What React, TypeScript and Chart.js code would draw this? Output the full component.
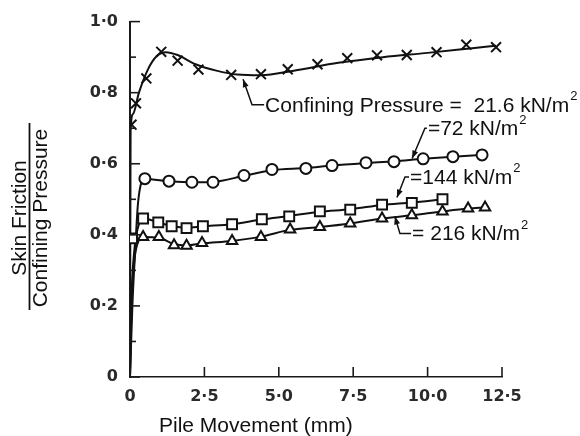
import React, { useEffect, useRef } from 'react';
import { Chart, registerables } from 'chart.js';

Chart.register(...registerables);

// ---------- axes ----------
const xTickValues = [0, 2.5, 5, 7.5, 10, 12.5];
const xTickLabels = ['0', '2·5', '5·0', '7·5', '10·0', '12·5'];
const yTickValues = [0, 0.2, 0.4, 0.6, 0.8, 1.0];
const yTickLabels = ['0', '0·2', '0·4', '0·6', '0·8', '1·0'];
const yMinorTicks = [0.1, 0.3, 0.5, 0.7, 0.9];
const xTitle = 'Pile Movement (mm)';
const yTitleTop = 'Skin Friction';
const yTitleBottom = 'Confining Pressure';

// ---------- 21.6 kN/m2 (crosses) ----------
const curve21X = [0, 0.02, 0.1, 0.3, 0.6, 0.9, 1.2, 1.6, 2.2, 2.9, 3.6, 4.4, 5.5, 7.0, 8.5, 10.0, 11.5, 12.3];
const curve21Y = [0, 0.69, 0.74, 0.8, 0.865, 0.903, 0.914, 0.906, 0.88, 0.862, 0.851, 0.849, 0.862, 0.884, 0.9, 0.912, 0.925, 0.932];
const mark21X = [0.05, 0.2, 0.55, 1.05, 1.6, 2.3, 3.4, 4.4, 5.3, 6.3, 7.3, 8.3, 9.3, 10.3, 11.3, 12.3];
const mark21Y = [0.71, 0.77, 0.84, 0.915, 0.89, 0.865, 0.85, 0.852, 0.866, 0.88, 0.897, 0.905, 0.906, 0.914, 0.935, 0.928];

// ---------- 72 kN/m2 (circles) ----------
const curve72X = [0, 0.08, 0.17, 0.27, 0.5, 1.31, 2.08, 2.79, 3.83, 4.77, 5.91, 6.79, 7.93, 8.87, 9.85, 10.85, 11.83];
const curve72Y = [0, 0.2, 0.35, 0.49, 0.557, 0.551, 0.548, 0.549, 0.566, 0.582, 0.588, 0.595, 0.602, 0.607, 0.614, 0.62, 0.625];
const mark72X = [0.5, 1.31, 2.08, 2.79, 3.83, 4.77, 5.91, 6.79, 7.93, 8.87, 9.85, 10.85, 11.83];
const mark72Y = [0.558, 0.551, 0.548, 0.548, 0.567, 0.584, 0.587, 0.595, 0.603, 0.606, 0.614, 0.62, 0.625];

// ---------- 144 kN/m2 (squares) ----------
const curve144X = [0, 0.05, 0.15, 0.3, 0.44, 0.95, 1.4, 1.9, 2.45, 3.43, 4.43, 5.35, 6.38, 7.4, 8.47, 9.47, 10.5];
const curve144Y = [0, 0.22, 0.36, 0.43, 0.446, 0.435, 0.425, 0.42, 0.424, 0.43, 0.443, 0.453, 0.465, 0.472, 0.484, 0.491, 0.5];
const mark144X = [0.07, 0.44, 0.95, 1.4, 1.9, 2.45, 3.43, 4.43, 5.35, 6.38, 7.4, 8.47, 9.47, 10.5];
const mark144Y = [0.39, 0.446, 0.435, 0.424, 0.419, 0.424, 0.43, 0.444, 0.452, 0.466, 0.471, 0.485, 0.49, 0.5];

// ---------- 216 kN/m2 (triangles) ----------
const curve216X = [0, 0.05, 0.15, 0.3, 0.44, 0.97, 1.48, 1.9, 2.42, 3.43, 4.4, 5.38, 6.38, 7.4, 8.47, 9.47, 10.5, 11.36, 11.93];
const curve216Y = [0, 0.2, 0.33, 0.385, 0.394, 0.392, 0.374, 0.37, 0.376, 0.383, 0.395, 0.414, 0.422, 0.432, 0.446, 0.455, 0.466, 0.474, 0.477];
const mark216X = [0.44, 0.97, 1.48, 1.9, 2.42, 3.43, 4.4, 5.38, 6.38, 7.4, 8.47, 9.47, 10.5, 11.36, 11.93];
const mark216Y = [0.394, 0.394, 0.371, 0.369, 0.377, 0.383, 0.394, 0.415, 0.422, 0.432, 0.446, 0.455, 0.466, 0.474, 0.477];

// ---------- annotations ----------
const noteLabels = ['Confining Pressure =  21.6 kN/m', '=72 kN/m', '=144 kN/m', '= 216 kN/m'];
const noteSup = ['2', '2', '2', '2'];
const noteTargetX = [3.8, 9.48, 8.97, 8.9];
const noteTargetY = [0.838, 0.615, 0.505, 0.452];
const noteElbowX = [4.1, 9.91, 9.24, 9.07];
const noteElbowY = [0.766, 0.70, 0.563, 0.404];
const noteTextX = [4.54, 10.01, 9.41, 9.48];

const INK = '#111';
const TEXT_FONT = '21px "Liberation Sans", Arial, sans-serif';
const zip = (xs: number[], ys: number[]) => xs.map((x, i) => ({ x, y: ys[i] }));

const curveDs = (xs: number[], ys: number[]) => ({
  type: 'line' as const,
  data: zip(xs, ys),
  borderColor: INK,
  borderWidth: 2,
  pointRadius: 0,
  fill: false,
  cubicInterpolationMode: 'monotone' as const,
  order: 1,
});

const markDs = (xs: number[], ys: number[], style: string, r: number) => ({
  type: 'scatter' as const,
  data: zip(xs, ys),
  showLine: false,
  pointStyle: style,
  pointRadius: r,
  pointBorderColor: INK,
  pointBackgroundColor: '#fff',
  pointBorderWidth: 2,
  borderColor: INK,
  backgroundColor: '#fff',
  order: 0,
});

const findLabel = (vals: number[], labels: string[], v: number) => {
  const i = vals.findIndex((t) => Math.abs(t - v) < 1e-6);
  return i >= 0 ? labels[i] : '';
};

const decorPlugin = {
  id: 'decor',
  afterDraw(chart: any) {
    const { ctx, chartArea, scales } = chart;
    const xs = scales.x;
    const ys = scales.y;
    const L = chartArea.left;
    const B = chartArea.bottom;
    ctx.save();
    ctx.strokeStyle = '#1a1a1a';
    ctx.lineWidth = 1.6;
    const seg = (x1: number, y1: number, x2: number, y2: number) => {
      ctx.beginPath();
      ctx.moveTo(x1, y1);
      ctx.lineTo(x2, y2);
      ctx.stroke();
    };
    // inward ticks
    yTickValues.forEach((v) => {
      const py = ys.getPixelForValue(v);
      seg(L, py, L + 10, py);
    });
    yMinorTicks.forEach((v) => {
      const py = ys.getPixelForValue(v);
      seg(L, py, L + 6, py);
    });
    xTickValues.forEach((v) => {
      const px = xs.getPixelForValue(v);
      seg(px, B, px, B - 10);
    });

    // annotations
    ctx.strokeStyle = INK;
    ctx.fillStyle = INK;
    ctx.lineWidth = 1.5;
    noteLabels.forEach((lab, i) => {
      const tx = xs.getPixelForValue(noteTargetX[i]);
      const ty = ys.getPixelForValue(noteTargetY[i]);
      const ex = xs.getPixelForValue(noteElbowX[i]);
      const ey = ys.getPixelForValue(noteElbowY[i]);
      const sx = xs.getPixelForValue(noteTextX[i]);
      ctx.beginPath();
      ctx.moveTo(tx, ty);
      ctx.lineTo(ex, ey);
      ctx.lineTo(sx - 1, ey);
      ctx.stroke();
      const ang = Math.atan2(ty - ey, tx - ex);
      const len = 8;
      const w = 3;
      ctx.beginPath();
      ctx.moveTo(tx, ty);
      ctx.lineTo(tx - len * Math.cos(ang) + w * Math.sin(ang), ty - len * Math.sin(ang) - w * Math.cos(ang));
      ctx.lineTo(tx - len * Math.cos(ang) - w * Math.sin(ang), ty - len * Math.sin(ang) + w * Math.cos(ang));
      ctx.closePath();
      ctx.fill();
      ctx.font = TEXT_FONT;
      ctx.textAlign = 'left';
      ctx.textBaseline = 'middle';
      ctx.fillText(lab, sx, ey + 1);
      const w2 = ctx.measureText(lab).width;
      ctx.font = '13px "Liberation Sans", Arial, sans-serif';
      ctx.fillText(noteSup[i], sx + w2 + 1, ey - 8);
    });

    // x title
    ctx.font = TEXT_FONT;
    ctx.textAlign = 'left';
    ctx.textBaseline = 'alphabetic';
    ctx.fillText(xTitle, 159, 432);

    // y title as a fraction
    const cy = 218;
    ctx.save();
    ctx.translate(26, cy);
    ctx.rotate(-Math.PI / 2);
    ctx.textAlign = 'center';
    ctx.fillText(yTitleTop, 0, 0);
    ctx.restore();
    ctx.save();
    ctx.translate(47, cy);
    ctx.rotate(-Math.PI / 2);
    ctx.textAlign = 'center';
    ctx.fillText(yTitleBottom, 0, 0);
    ctx.restore();
    ctx.lineWidth = 1.8;
    seg(29.5, 123, 29.5, 310);
    ctx.restore();
  },
};

export default function App() {
  const ref = useRef<HTMLCanvasElement | null>(null);
  useEffect(() => {
    document.body.style.margin = '0';
    if (!ref.current) return;
    const chart = new Chart(ref.current, {
      type: 'scatter',
      data: {
        datasets: [
          markDs(mark21X, mark21Y, 'crossRot', 7),
          markDs(mark72X, mark72Y, 'circle', 5.5),
          markDs(mark144X, mark144Y, 'rect', 7),
          markDs(mark216X, mark216Y, 'triangle', 6),
          curveDs(curve21X, curve21Y),
          curveDs(curve72X, curve72Y),
          curveDs(curve144X, curve144Y),
          curveDs(curve216X, curve216Y),
        ] as any,
      },
      options: {
        animation: false,
        responsive: false,
        devicePixelRatio: 1,
        layout: { padding: { top: 13, right: 78, left: 0, bottom: 0 } },
        plugins: { legend: { display: false }, tooltip: { enabled: false } },
        scales: {
          x: {
            type: 'linear',
            min: 0,
            max: 12.5,
            grid: { display: false, drawTicks: false },
            border: { display: true, color: '#1a1a1a', width: 1.6 },
            afterBuildTicks: (s: any) => {
              s.ticks = xTickValues.map((v) => ({ value: v }));
            },
            afterFit: (s: any) => {
              s.height = 59;
            },
            ticks: {
              padding: 10,
              maxRotation: 0,
              autoSkip: false,
              color: '#2a2a2a',
              font: { family: '"DejaVu Sans", sans-serif', weight: 'bold', size: 16 },
              callback: (v: any) => findLabel(xTickValues, xTickLabels, Number(v)),
            },
          },
          y: {
            type: 'linear',
            min: 0,
            max: 1.0,
            grid: { display: false, drawTicks: false },
            border: { display: true, color: '#1a1a1a', width: 2 },
            afterBuildTicks: (s: any) => {
              s.ticks = yTickValues.map((v) => ({ value: v }));
            },
            afterFit: (s: any) => {
              s.width = 130;
            },
            ticks: {
              padding: 12,
              autoSkip: false,
              color: '#2a2a2a',
              font: { family: '"DejaVu Sans", sans-serif', weight: 'bold', size: 16 },
              callback: (v: any) => findLabel(yTickValues, yTickLabels, Number(v)),
            },
          },
        },
      } as any,
      plugins: [decorPlugin],
    });
    return () => chart.destroy();
  }, []);
  return (
    <div style={{ width: 580, height: 436, background: '#fff' }}>
      <canvas ref={ref} width={580} height={436} style={{ display: 'block' }} />
    </div>
  );
}
